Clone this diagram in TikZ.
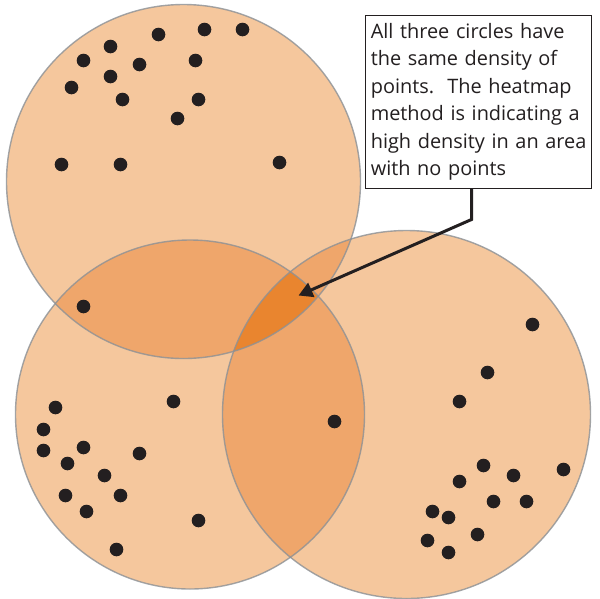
\documentclass[tikz,border=0pt]{standalone}
\usepackage{fontspec}
\setmainfont{Open Sans}
\definecolor{cOne}{RGB}{245,199,157}
\definecolor{cTwo}{RGB}{239,166,107}
\definecolor{cThree}{RGB}{233,133,47}
\definecolor{cDot}{RGB}{35,31,32}
\definecolor{cRing}{RGB}{140,145,150}
\usetikzlibrary{arrows.meta}
\tikzset{
  x=1pt,y=-1pt,
  ring/.style={draw=cRing,draw opacity=.8,line width=1.4pt},
  dot/.style={fill=cDot},
  callout/.style={draw=cDot,line width=1.6pt,fill=white,text width=226pt,minimum height=173pt,inner sep=0pt,align=left,text=cDot,font=\fontsize{19.9}{27.4}\selectfont},
  leader/.style={draw=cDot,line width=3pt,-{Triangle[length=14pt,width=15pt]}}
}
\newcommand{\ca}{(183,181) circle[radius=177]}
\newcommand{\cb}{(189.5,414) circle[radius=174.5]}
\newcommand{\cc}{(406,414) circle[radius=184]}
\begin{document}
\begin{tikzpicture}[shift={(0.5,0.5)}]
\useasboundingbox (-0.5,-0.5) rectangle (599.5,597.5);
\fill[cOne] \ca; \fill[cOne] \cb; \fill[cOne] \cc;
\begin{scope}\clip \ca; \fill[cTwo] \cb; \fill[cTwo] \cc;\end{scope}
\begin{scope}\clip \cb; \fill[cTwo] \cc;\end{scope}
\begin{scope}\clip \ca; \clip \cb; \fill[cThree] \cc;\end{scope}
\draw[ring] \ca; \draw[ring] \cb; \draw[ring] \cc;
\foreach \p in {(158,34),(204,29),(242,29),(110,46),(83,60),(139,64),(195,60),(110,76),(71,87),(122,99),(198,99),(177,118),(61,164),(120,164),(279,162),(83,306),
(173,401),(55,407),(43,429),(43,450),(83,447),(139,453),(67,463),(104,475),(65,495),(120,495),(86,511),(198,520),(116,549),(334,421),
(532,324),(487,372),(459,401),(563,469),(483,465),(513,475),(459,481),(493,501),(526,501),(432,511),(448,517),(477,534),(427,540),(448,552)}
  \fill[dot] \p circle[radius=6.8];
\node[callout,anchor=north west] (box) at (364,14) {\hspace*{5.5pt}\parbox{220pt}{\raggedright All three circles have\\the same density of\\points.\ \ The heatmap\\method is indicating a\\high density in an area\\with no points}};
\coordinate (elbow) at (471,219);
\coordinate (tip) at (298,295);
\draw[leader] (box.south -| elbow) -- (elbow) -- (tip);
\end{tikzpicture}
\end{document}
